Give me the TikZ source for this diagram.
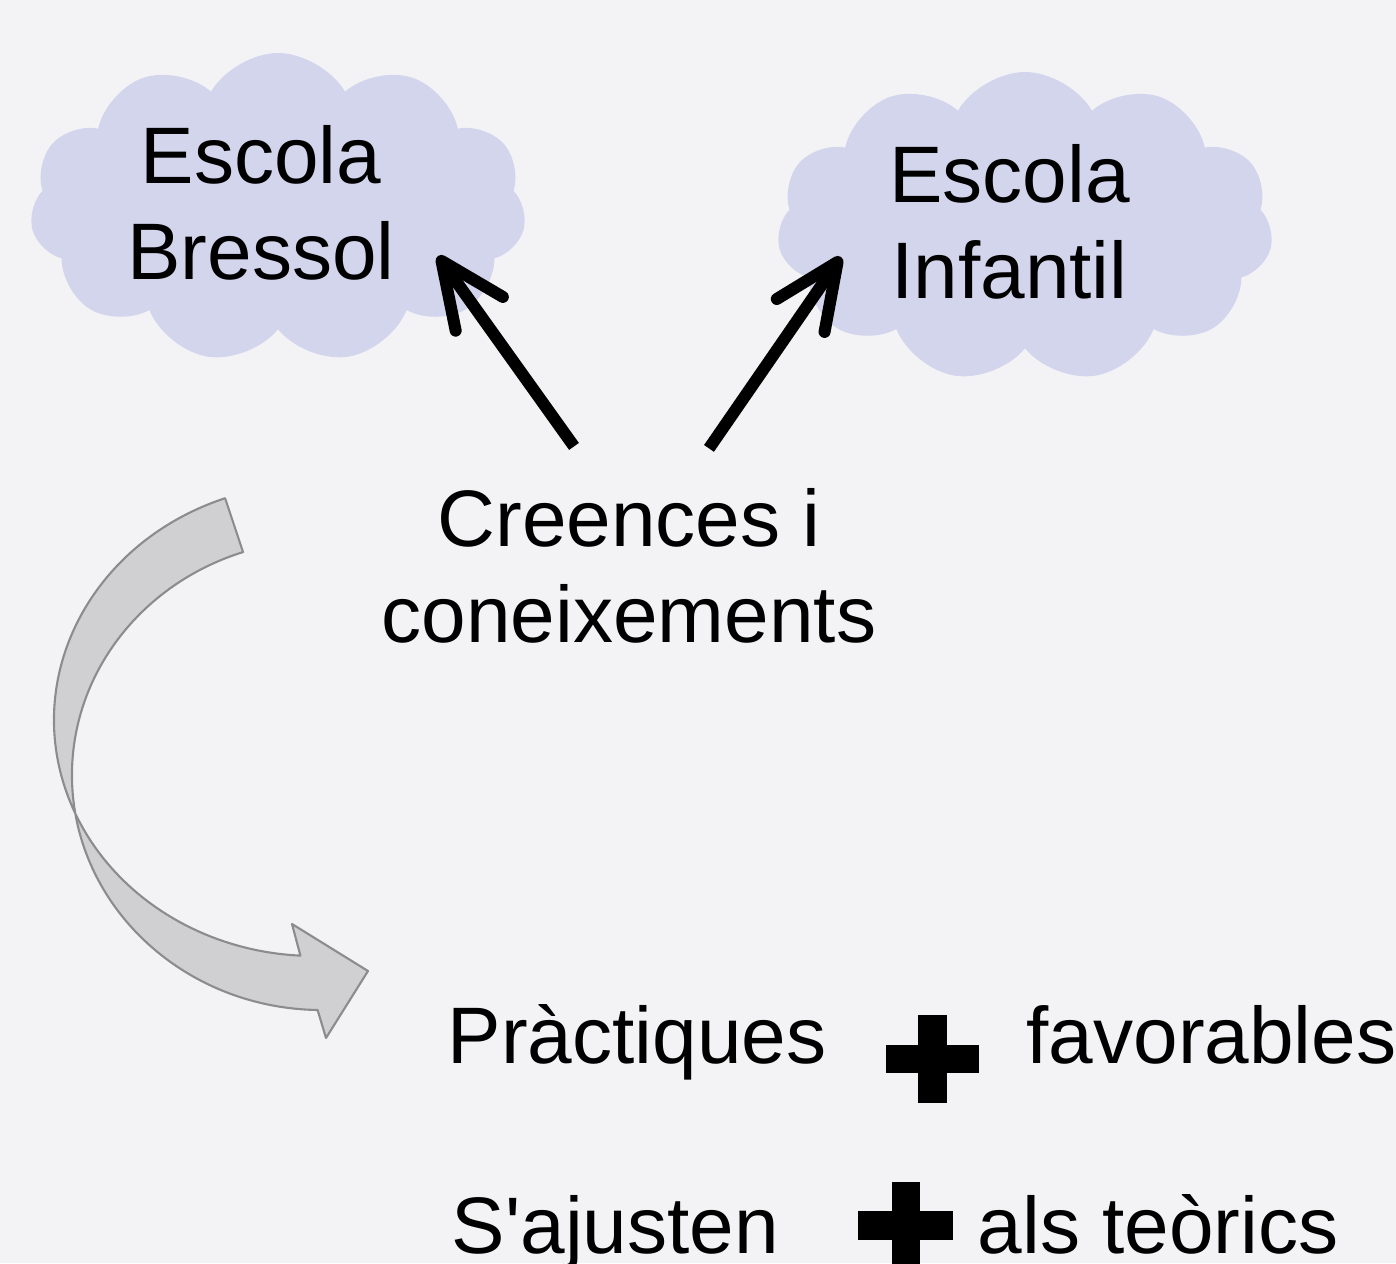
\documentclass[tikz,border=0pt]{standalone}
\usepackage{fontspec}
\setmainfont{Liberation Sans}
\usepackage{tikz}
\usetikzlibrary{shapes, shapes.symbols, arrows.meta, positioning}
\definecolor{slidebg}{RGB}{243,243,246}
\definecolor{cloudfill}{RGB}{211,213,236}
\definecolor{bendfill}{RGB}{208,208,211}
\definecolor{benddraw}{RGB}{140,140,143}

\begin{document}
\begin{tikzpicture}[
	MyCloud/.style={cloud, cloud puffs=11, cloud puff arc=120, cloud ignores aspect,
		fill=cloudfill, draw=none, minimum width=4.96cm, minimum height=3.1cm},
	MyText/.style={inner sep=0pt, align=center, font=\fontsize{22.8}{27.3}\selectfont},
	MyArrow/.style={line width=0.12cm,
		-{Straight Barb[length=6.5mm, width=5.8mm, line cap=round, line join=round]}},
	BendArrow/.style={fill=bendfill, draw=benddraw, line width=0.6pt, line join=round}
	]

\useasboundingbox (0,0) rectangle (13.96,12.63);
\clip (0,0) rectangle (13.96,12.63);
\fill [slidebg] (0,0) rectangle (13.96,12.63);

\node [MyCloud] (bressol) at (2.78,10.55) {};
\node [MyCloud] (infantil) at (10.25,10.36) {};
\node [MyText] (bressoltxt) at (2.61,10.60) {Escola\\Bressol};
\node [MyText] (infantiltxt) at (10.095,10.41) {Escola\\Infantil};
\node [MyText] (creences) at (6.29,6.975) {Creences i\\coneixements};

\draw [MyArrow] ([shift={(-0.55,0.41)}]creences.north) -- ([shift={(1.60,-0.48)}]bressol.center);
\draw [MyArrow] ([shift={(0.80,0.39)}]creences.north) -- ([shift={(-1.84,-0.30)}]infantil.center);

\filldraw [BendArrow] (2.251,7.648)
	arc[start angle=110, end angle=267, x radius=2.60, y radius=2.36]
	-- (2.92,3.39) -- (3.68,2.92) -- (3.26,2.25) -- (3.176,2.53)
	arc[start angle=269, end angle=108.4, x radius=2.50, y radius=2.35] -- cycle;

\node [MyText, anchor=base west] (practiques) at (4.47,2.00) {Pràctiques};
\node [MyText, anchor=base west] (favorables) at (10.26,2.00) {favorables};
\node [MyText, anchor=base west] (sajusten) at (4.51,0.10) {S\textquotesingle ajusten};
\node [MyText, anchor=base west] (teorics) at (9.77,0.10) {als teòrics};

\fill (9.18,1.60) rectangle (9.47,2.48);
\fill (8.86,1.90) rectangle (9.79,2.18);
\fill (8.92,-0.07) rectangle (9.20,0.81);
\fill (8.58,0.23) rectangle (9.53,0.52);

\end{tikzpicture}
\end{document}
